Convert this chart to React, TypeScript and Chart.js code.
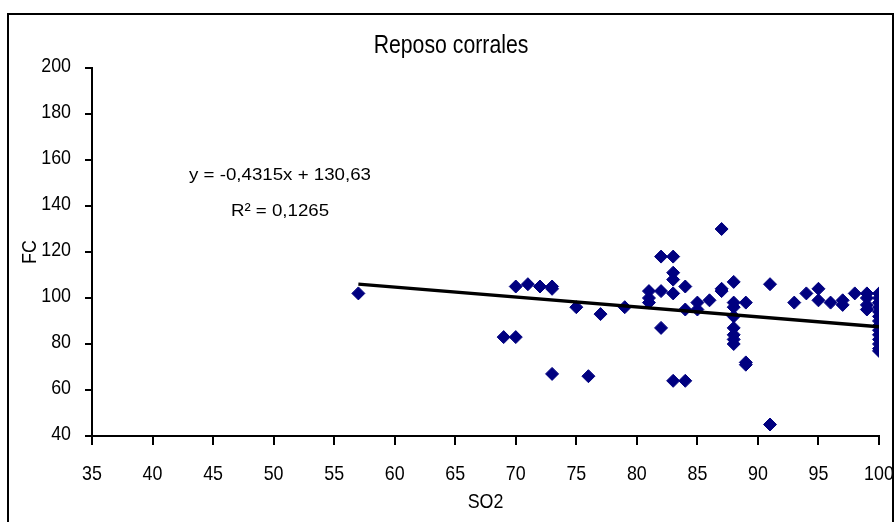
import React, { useEffect, useRef } from "react";
import { Chart, registerables } from "chart.js";

Chart.register(...registerables);

const TITLE = "Reposo corrales";
const X_TITLE = "SO2";
const Y_TITLE = "FC";
const EQUATION = "y = -0,4315x + 130,63";
const R2_TEXT = "R\u00B2 = 0,1265";

const SO2 = [
  57, 69, 70, 70, 71, 72, 73, 73, 73, 75, 76, 77, 79,
  81, 81, 81, 82, 82, 82, 83, 83, 83, 83, 83, 84, 84, 84,
  85, 85, 86, 87, 87, 87, 88, 88, 88, 88, 88, 88, 88, 88,
  89, 89, 89, 91, 91, 93, 94, 95, 95, 96, 97, 97, 98,
  99, 99, 99, 99,
  100, 100, 100, 100, 100, 100, 100, 100, 100, 100, 100, 100, 100, 100,
];
const FC = [
  102, 83, 83, 105, 106, 105, 105, 104, 67, 96, 66, 93, 96,
  103, 100, 98, 118, 103, 87, 118, 111, 108, 102, 64, 105, 95, 64,
  98, 95, 99, 130, 104, 103, 107, 98, 96, 92, 87, 84, 82, 80,
  98, 72, 71, 106, 45, 98, 102, 104, 99, 98, 99, 97, 102,
  102, 100, 97, 95,
  102, 100, 98, 96, 94, 92, 90, 88, 86, 84, 82, 80, 78, 77,
];

const SLOPE = -0.4315;
const INTERCEPT = 130.63;

const X_MIN = 35;
const X_MAX = 100;
const X_STEP = 5;
const Y_MIN = 40;
const Y_MAX = 200;
const Y_STEP = 20;

const FONT = '"Liberation Sans", Arial, sans-serif';
const CONDENSE = 0.85;

function drawText(
  ctx: CanvasRenderingContext2D,
  text: string,
  x: number,
  y: number,
  size: number,
  sx: number,
  align: CanvasTextAlign,
  baseline: CanvasTextBaseline,
  rotation = 0
) {
  ctx.save();
  ctx.translate(x, y);
  if (rotation) ctx.rotate(rotation);
  ctx.scale(sx, 1);
  ctx.font = `${size}px ${FONT}`;
  ctx.textAlign = align;
  ctx.textBaseline = baseline;
  ctx.fillStyle = "#000";
  ctx.fillText(text, 0, 0);
  ctx.restore();
}

const overlayPlugin = {
  id: "overlay",
  afterDraw(chart: any) {
    const ctx: CanvasRenderingContext2D = chart.ctx;
    const { x, y } = chart.scales;
    const area = chart.chartArea;
    ctx.save();
    ctx.strokeStyle = "#000";
    ctx.lineWidth = 2;
    ctx.strokeRect(8, 14, 885, 530);
    ctx.restore();

    drawText(ctx, TITLE, 451, 46, 25, CONDENSE, "center", "middle");

    for (const t of x.ticks) {
      const px = x.getPixelForValue(t.value);
      drawText(ctx, String(t.value), px, area.bottom + 38, 21, CONDENSE, "center", "middle");
    }
    for (const t of y.ticks) {
      const py = y.getPixelForValue(t.value);
      drawText(ctx, String(t.value), area.left - 21, py - 2, 21, CONDENSE, "right", "middle");
    }

    drawText(ctx, X_TITLE, (area.left + area.right) / 2, 502, 21, CONDENSE, "center", "middle");
    drawText(ctx, Y_TITLE, 30, (area.top + area.bottom) / 2, 21, CONDENSE, "center", "middle", -Math.PI / 2);

    drawText(ctx, EQUATION, 280, 180, 17, 1.1, "center", "alphabetic");
    drawText(ctx, R2_TEXT, 280, 216, 17, 1.1, "center", "alphabetic");
  },
};

export default function App() {
  const ref = useRef<HTMLCanvasElement | null>(null);

  useEffect(() => {
    if (!ref.current) return;
    const points = SO2.map((xv, i) => ({ x: xv, y: FC[i] }));
    const fitStart = Math.min(...SO2);
    const fitEnd = Math.max(...SO2);
    const fit = [
      { x: fitStart, y: SLOPE * fitStart + INTERCEPT },
      { x: fitEnd, y: SLOPE * fitEnd + INTERCEPT },
    ];

    const chart = new Chart(ref.current, {
      type: "scatter",
      data: {
        datasets: [
          {
            type: "line",
            label: "Tendencia",
            data: fit,
            borderColor: "#000",
            borderWidth: 3.5,
            pointRadius: 0,
            fill: false,
            order: 0,
          } as any,
          {
            label: "FC",
            data: points,
            pointStyle: "rectRot",
            pointRadius: 6.5,
            pointBorderWidth: 1,
            backgroundColor: "#000080",
            borderColor: "#000080",
            order: 1,
          },
        ],
      },
      options: {
        responsive: false,
        animation: false,
        devicePixelRatio: 1,
        layout: { padding: { left: 0, top: 68, right: 17, bottom: 0 } },
        plugins: {
          legend: { display: false },
          tooltip: { enabled: false },
          title: { display: false },
        },
        scales: {
          x: {
            type: "linear",
            min: X_MIN,
            max: X_MAX,
            afterFit: (s: any) => {
              s.height = 86;
            },
            ticks: { stepSize: X_STEP, autoSkip: false, maxRotation: 0, display: false },
            grid: {
              display: true,
              drawOnChartArea: false,
              drawTicks: true,
              tickLength: 9,
              color: "#000",
              lineWidth: 2,
            },
            border: { display: true, color: "#000", width: 2 },
            title: { display: false },
          },
          y: {
            type: "linear",
            min: Y_MIN,
            max: Y_MAX,
            afterFit: (s: any) => {
              s.width = 92;
            },
            ticks: { stepSize: Y_STEP, display: false },
            grid: {
              display: true,
              drawOnChartArea: false,
              drawTicks: true,
              tickLength: 7,
              color: "#000",
              lineWidth: 2,
            },
            border: { display: true, color: "#000", width: 2 },
            title: { display: false },
          },
        },
      },
      plugins: [overlayPlugin],
    });
    return () => chart.destroy();
  }, []);

  return (
    <div style={{ position: "fixed", left: 0, top: 0, width: 896, height: 522, background: "#fff" }}>
      <canvas ref={ref} width={896} height={522} style={{ display: "block", width: 896, height: 522 }} />
    </div>
  );
}
